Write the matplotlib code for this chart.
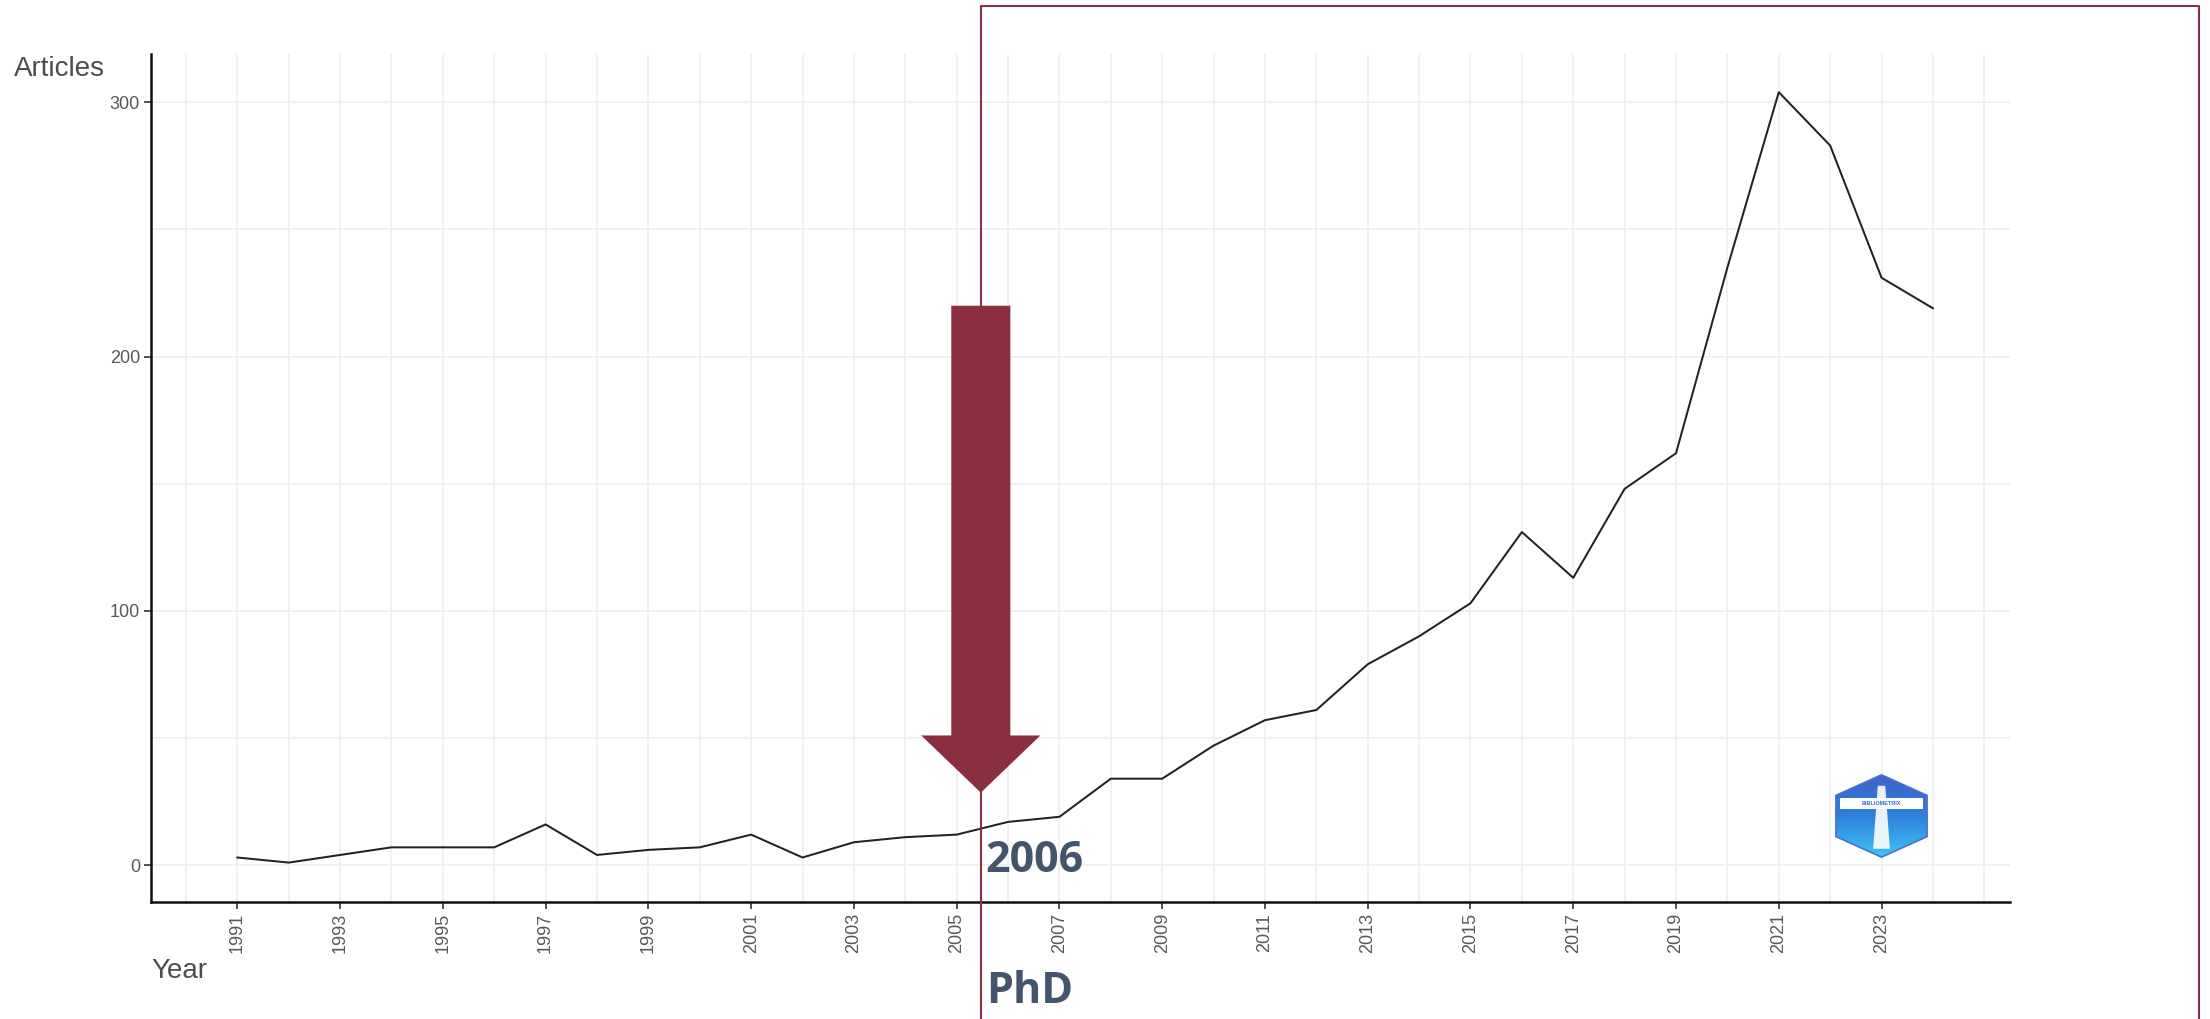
import numpy as np
import matplotlib
matplotlib.use('Agg')
import matplotlib.pyplot as plt
from matplotlib.patches import Polygon
from matplotlib.lines import Line2D

# data
years = list(range(1991, 2025))
articles = [3, 1, 4, 7, 7, 7, 16, 4, 6, 7, 12, 3, 9, 11, 12, 17, 19, 34, 34, 47,
            57, 61, 79, 90, 103, 131, 113, 148, 162, 235, 304, 283, 231, 219]
tick_years = list(range(1991, 2025, 2))
y_ticks = [0, 100, 200, 300]
phd_year = 2005.47
phd_label = '2006'

W, H = 2210, 1019
grid_col = '#efefef'
txt_col = '#4d4d4d'
red = '#8a2f3f'
slate = '#44546a'

plt.rcParams['font.family'] = ['Liberation Sans', 'DejaVu Sans']

fig = plt.figure(figsize=(W / 100, H / 100), dpi=100)
ax = fig.add_axes([151 / W, 1 - 902 / H, (2010 - 151) / W, (902 - 54) / H])

ax.set_xlim(1989.32, 2025.5)
ax.set_ylim(-14.5, 319)

# grid like ggplot, majors and minors both very light
ax.set_xticks(tick_years)
ax.set_xticks(range(1990, 2026), minor=True)
ax.set_yticks(y_ticks)
ax.set_yticks([50, 150, 250], minor=True)
ax.grid(True, which='both', color=grid_col, lw=1.2, zorder=0)
ax.tick_params(which='minor', length=0)
ax.tick_params(which='major', length=5, width=1.2, color='#333333',
               labelsize=13, labelcolor='#595959', pad=3)
ax.set_xticklabels([str(y) for y in tick_years], rotation=90)

for s in ['top', 'right']:
    ax.spines[s].set_visible(False)
for s in ['left', 'bottom']:
    ax.spines[s].set_linewidth(1.8)
    ax.spines[s].set_color('#111111')

ax.plot(years, articles, color='#222222', lw=1.45, zorder=3)

# big arrow pointing at the PhD year
arrow = Polygon([(phd_year - 0.575, 220), (phd_year + 0.575, 220),
                 (phd_year + 0.575, 51), (phd_year + 1.16, 51),
                 (phd_year, 28.5), (phd_year - 1.16, 51),
                 (phd_year - 0.575, 51)],
                closed=True, facecolor=red, edgecolor='none', zorder=4)
ax.add_patch(arrow)

# frame around the post-PhD period, open at the bottom
fig.canvas.draw()
px = ax.transData.transform((phd_year, 0))[0]
bx = px / W
frame = Line2D([bx, bx, 2199 / W, 2199 / W], [0, 1 - 6 / H, 1 - 6 / H, 0],
               transform=fig.transFigure, color=red, lw=1.5, zorder=10)
fig.add_artist(frame)

fig.text(bx + 5 / W, 1 - 872 / H, phd_label, fontsize=31, fontweight='bold',
         color=slate, family=['Open Sans', 'DejaVu Sans'], va='baseline')
fig.text(bx + 5 / W, 1 - 1003 / H, 'PhD', fontsize=31, fontweight='bold',
         color=slate, family=['Open Sans', 'DejaVu Sans'], va='baseline')

fig.text(14 / W, 1 - 76 / H, 'Articles', fontsize=20, color=txt_col, va='baseline')
fig.text(151 / W, 1 - 978 / H, 'Year', fontsize=20, color=txt_col, va='baseline')

# small hexagon logo in the bottom right
lax = fig.add_axes([1835 / W, 1 - 858 / H, 93 / W, 84 / H])
lax.set_xlim(-1, 1)
lax.set_ylim(-1, 1)
lax.axis('off')
ang = np.deg2rad(np.arange(90, 450, 60))
hx = np.clip(1.15 * np.cos(ang), -0.98, 0.98)
hy = 0.98 * np.sin(ang)
grad = np.linspace(0, 1, 100).reshape(-1, 1)
cmap = matplotlib.colors.LinearSegmentedColormap.from_list('logo', ['#3ec5f7', '#2f80dc', '#3f62c8'])
im = lax.imshow(grad, extent=(-1, 1, -1, 1), origin='lower', cmap=cmap, aspect='auto')
hexp = Polygon(np.c_[hx, hy], closed=True, facecolor='none', edgecolor='#4a6fd0', lw=1.2)
lax.add_patch(hexp)
im.set_clip_path(hexp)
lax.add_patch(Polygon([(-0.9, 0.42), (0.9, 0.42), (0.9, 0.16), (-0.9, 0.16)],
                      closed=True, facecolor='white', edgecolor='none'))
lax.text(0, 0.29, 'BIBLIOMETRIX', fontsize=4, color='#2f6fd0', ha='center',
         va='center', fontweight='bold')
lax.add_patch(Polygon([(-0.08, 0.72), (0.08, 0.72), (0.18, -0.78), (-0.18, -0.78)],
                      closed=True, facecolor='white', edgecolor='none', alpha=0.9))

fig.savefig('out.png', dpi=100, facecolor='white')
